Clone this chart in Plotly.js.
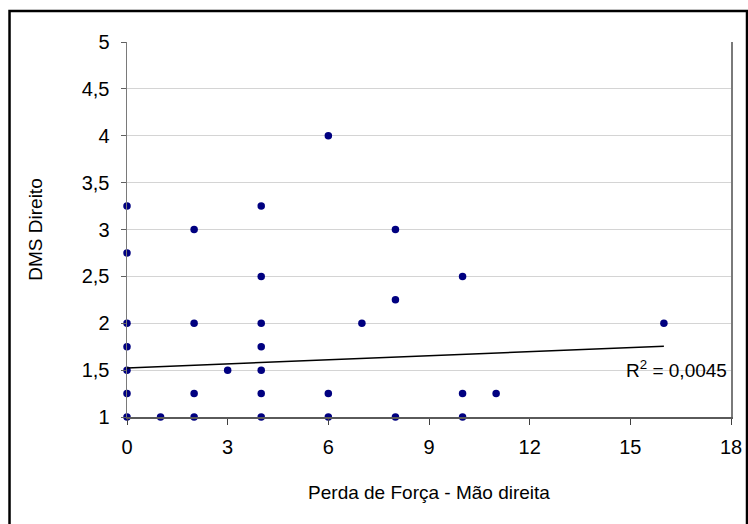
<!DOCTYPE html>
<html>
<head>
<meta charset="utf-8">
<script src="https://cdn.plot.ly/plotly-3.0.1.min.js"></script>
<style>
  html, body { margin: 0; padding: 0; background: #fff; }
  #chart { width: 748px; height: 524px; }
</style>
</head>
<body>
<div id="chart"></div>
<script>
// Perda de Força (x) vs DMS Direito (y)
const perdaForca = [0, 0, 0, 0, 0, 0, 0,
                    1,
                    2, 2, 2, 2,
                    3,
                    4, 4, 4, 4, 4, 4, 4,
                    6, 6, 6,
                    7,
                    8, 8, 8,
                    10, 10, 10,
                    11,
                    16];
const dmsDireito = [3.25, 2.75, 2, 1.75, 1.5, 1.25, 1,
                    1,
                    3, 2, 1.25, 1,
                    1.5,
                    3.25, 2.5, 2, 1.75, 1.5, 1.25, 1,
                    4, 1.25, 1,
                    2,
                    3, 2.25, 1,
                    2.5, 1.25, 1,
                    1.25,
                    2];
// Linear trend line end points (as drawn in the reference)
const trendX = [0, 16];
const trendY = [1.523, 1.754];
const r2Label = 'R<sup>2</sup> = 0,0045';
const xTitle = 'Perda de Força - Mão direita';
const yTitle = 'DMS Direito';

const FONT = 'Liberation Sans, Arial, sans-serif';

const traces = [
  {
    type: 'scatter', mode: 'markers',
    x: perdaForca, y: dmsDireito,
    marker: { color: '#000080', size: 7.5 },
    cliponaxis: false,
    hoverinfo: 'x+y', showlegend: false
  },
  {
    type: 'scatter', mode: 'lines',
    x: trendX, y: trendY,
    line: { color: '#000000', width: 1.5 },
    cliponaxis: false,
    hoverinfo: 'skip', showlegend: false
  }
];

const layout = {
  width: 748, height: 524,
  margin: { l: 127, r: 17, t: 42, b: 107 },
  paper_bgcolor: '#ffffff', plot_bgcolor: '#ffffff',
  separators: ',.',
  font: { family: FONT, size: 18, color: '#000000' },
  showlegend: false,
  xaxis: {
    range: [0, 18], dtick: 3, tick0: 0,
    showgrid: false, zeroline: false,
    showline: true, linecolor: '#5a5a5a', linewidth: 1.5,
    ticks: 'outside', ticklen: 6, tickcolor: '#404040', tickwidth: 1,
    ticklabelstandoff: 5,
    tickfont: { family: FONT, size: 20, color: '#000' },
    title: { text: xTitle, font: { family: FONT, size: 19, color: '#000' }, standoff: 29 },
    fixedrange: true
  },
  xaxis2: {
    overlaying: 'x', anchor: 'y', side: 'bottom',
    range: [0, 18], dtick: 3, tick0: 0,
    showgrid: false, zeroline: false, showline: false,
    ticks: 'inside', ticklen: 6, tickcolor: '#404040', tickwidth: 1,
    showticklabels: false, fixedrange: true
  },
  yaxis: {
    range: [1, 5], dtick: 0.5, tick0: 1,
    showgrid: true, gridcolor: '#d4d4d4', gridwidth: 1,
    zeroline: false,
    showline: true, linecolor: '#7a7a7a', linewidth: 1.5, mirror: true,
    ticks: 'outside', ticklen: 5, tickcolor: '#606060', tickwidth: 1,
    ticklabelstandoff: 7,
    tickfont: { family: FONT, size: 20, color: '#000' },
    title: { text: yTitle, font: { family: FONT, size: 19, color: '#000' }, standoff: 34 },
    fixedrange: true
  },
  annotations: [
    {
      xref: 'x', yref: 'y', x: 17.95, y: 1.51,
      xanchor: 'right', yanchor: 'middle',
      text: r2Label, showarrow: false,
      font: { family: FONT, size: 19, color: '#000' }
    }
  ],
  shapes: [
    {
      type: 'path', xref: 'paper', yref: 'paper', layer: 'above',
      path: 'M -0.1945 -0.35 L -0.1945 1.0827 L 1.0265 1.0827 L 1.0265 -0.35',
      line: { color: '#000000', width: 2.5 }
    }
  ]
};

Plotly.newPlot('chart', traces, layout, { displayModeBar: false, staticPlot: true });
</script>
</body>
</html>
